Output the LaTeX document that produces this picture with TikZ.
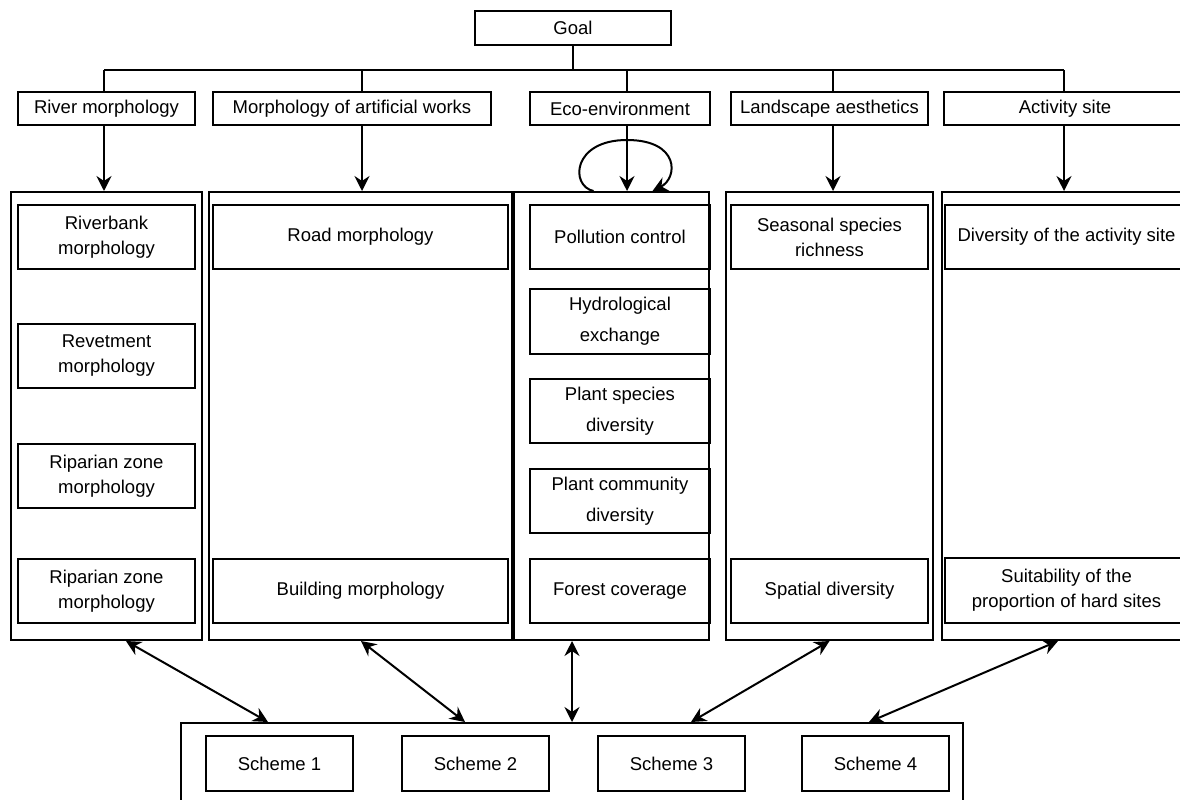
\documentclass[tikz,border=0pt]{standalone}
\usepackage{fontspec}
\setmainfont{Liberation Sans}
\usetikzlibrary{arrows.meta}
\begin{document}
\begin{tikzpicture}[x=1pt,y=-1pt,
    box/.style={draw, line width=2pt, inner sep=0pt, align=center,
      font=\fontsize{18.5}{25}\selectfont},
    colbox/.style={draw, line width=2pt, inner sep=0pt},
    link/.style={line width=2pt},
    >={Stealth[length=15pt,width=15pt,inset=5pt]}]
    \useasboundingbox (0,0) rectangle (1180,800);
    \clip (0,0) rectangle (1180,800);

    % 目標
    \node[box, minimum width=196pt, minimum height=34pt] (goal) at (573,28) {Goal};
    \coordinate (b1) at (104,70);
    \coordinate (b2) at (362,70);
    \coordinate (b3) at (627,70);
    \coordinate (b4) at (833,70);
    \coordinate (b5) at (1064,70);
    \draw[link] (goal.south) -- (goal.south |- b1);
    \draw[link] (b1) -- (b5);

    % 評価項目
    \node[box, minimum width=177pt, minimum height=33pt] (t1) at (106.5,108.5) {River morphology};
    \node[box, minimum width=278pt, minimum height=33pt] (t2) at (352,108.5) {Morphology of artificial works};
    \node[box, minimum width=180pt, minimum height=33pt] (t3) at (620,108.5) {Eco-environment};
    \node[box, minimum width=197pt, minimum height=33pt] (t4) at (829.5,108.5) {Landscape aesthetics};
    \node[box, minimum width=242pt, minimum height=33pt] (t5) at (1065,108.5) {Activity site};

    % 指標の枠
    \node[colbox, minimum width=191pt, minimum height=448pt] (c1) at (106.5,416) {};
    \node[colbox, minimum width=304pt, minimum height=448pt] (c2) at (361,416) {};
    \node[colbox, minimum width=195pt, minimum height=448pt] (c3) at (611.5,416) {};
    \node[colbox, minimum width=207pt, minimum height=448pt] (c4) at (829.5,416) {};
    \node[colbox, minimum width=248pt, minimum height=448pt] (c5) at (1066,416) {};
    \draw[line width=3.5pt] (c3.north west) -- (c3.south west);

    \foreach \i in {1,...,5} {
      \draw[link] (b\i) -- (t\i.north -| b\i);
      \draw[link,->] (t\i.south -| b\i) -- (c\i.north -| b\i);
    }

    % 自己ループ
    \draw[link,->] ([xshift=-18pt]c3.north) .. controls (570,186) and (572,140) .. (627,140)
      .. controls (680,140) and (678,178) .. ([xshift=41pt]c3.north);

    % 河川形態
    \node[box, minimum width=177pt, minimum height=64pt] (r1) at (106.5,237) {Riverbank\\morphology};
    \node[box, minimum width=177pt, minimum height=64pt] (r2) at (106.5,356) {Revetment\\morphology};
    \node[box, minimum width=177pt, minimum height=64pt] (r3) at (106.5,476) {Riparian zone\\morphology};
    \node[box, minimum width=177pt, minimum height=64pt] (r4) at (106.5,591) {Riparian zone\\morphology};

    % 人工構造物
    \node[box, minimum width=295pt, minimum height=64pt] (a1) at (360.5,237) {Road morphology};
    \node[box, minimum width=295pt, minimum height=64pt] (a2) at (360.5,591) {Building morphology};

    % 生態環境
    \node[box, minimum width=180pt, minimum height=64pt] (e1) at (620,237) {Pollution control};
    \node[box, minimum width=180pt, minimum height=65pt, font=\fontsize{18.5}{31}\selectfont] (e2) at (620,321.5) {Hydrological\\exchange};
    \node[box, minimum width=180pt, minimum height=64pt, font=\fontsize{18.5}{31}\selectfont] (e3) at (620,411) {Plant species\\diversity};
    \node[box, minimum width=180pt, minimum height=64pt, font=\fontsize{18.5}{31}\selectfont] (e4) at (620,501) {Plant community\\diversity};
    \node[box, minimum width=180pt, minimum height=64pt] (e5) at (620,591) {Forest coverage};

    % 景観美
    \node[box, minimum width=197pt, minimum height=64pt] (l1) at (829.5,237) {Seasonal species\\richness};
    \node[box, minimum width=197pt, minimum height=64pt] (l2) at (829.5,591) {Spatial diversity};

    % 活動の場
    \node[box, minimum width=243pt, minimum height=64pt] (p1) at (1066.5,237) {Diversity of the activity site};
    \node[box, minimum width=243pt, minimum height=65pt] (p2) at (1066.5,590.5) {Suitability of the\\proportion of hard sites};

    % 計画案
    \node[colbox, minimum width=782pt, minimum height=87pt] (schemes) at (572,766.5) {};
    \node[box, minimum width=147pt, minimum height=55pt] (sc1) at (279.5,763.5) {Scheme 1};
    \node[box, minimum width=147pt, minimum height=55pt] (sc2) at (475.5,763.5) {Scheme 2};
    \node[box, minimum width=147pt, minimum height=55pt] (sc3) at (671.5,763.5) {Scheme 3};
    \node[box, minimum width=147pt, minimum height=55pt] (sc4) at (875.5,763.5) {Scheme 4};

    \draw[link,<->] ([xshift=19.5pt]c1.south) -- ([xshift=-11.5pt]sc1.north |- schemes.north);
    \draw[link,<->] (c2.south) -- ([xshift=-10.5pt]sc2.north |- schemes.north);
    \draw[link,<->] (c3.south -| schemes.north) -- (schemes.north);
    \draw[link,<->] (c4.south) -- ([xshift=19.5pt]sc3.north |- schemes.north);
    \draw[link,<->] ([xshift=-8pt]c5.south) -- ([xshift=-6.5pt]sc4.north |- schemes.north);
  \end{tikzpicture}
\end{document}
